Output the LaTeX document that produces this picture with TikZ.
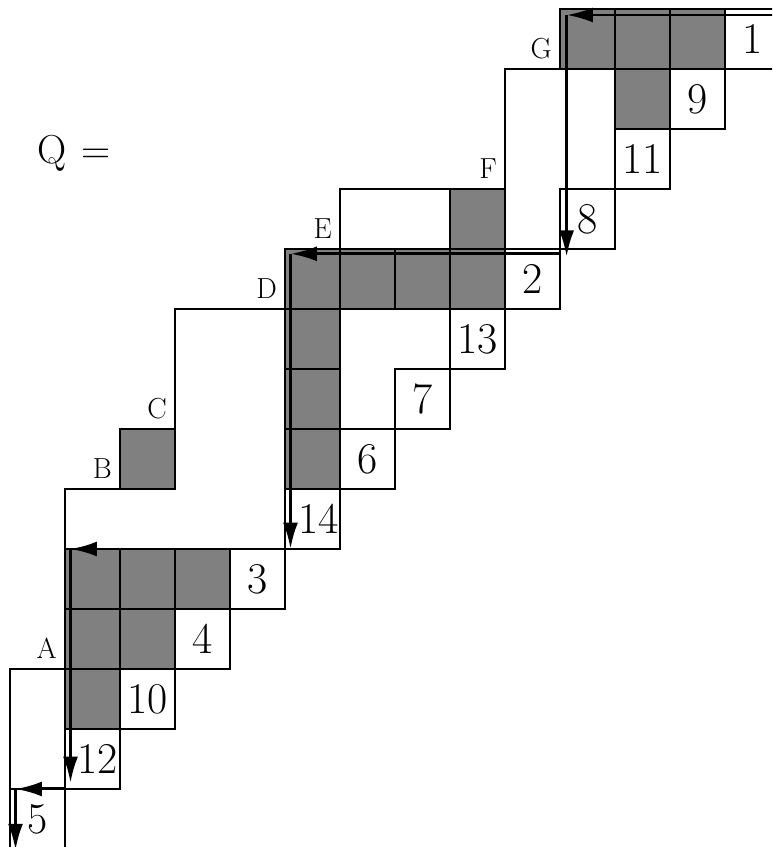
\documentclass[tikz,border=0pt]{standalone}
\usepackage{tikz}
\usetikzlibrary{arrows.meta}

\begin{document}
\begin{tikzpicture}[x=1.1cm, y=-1.2cm,
    cell/.style={draw, line width=0.7pt, minimum width=1.1cm, minimum height=1.2cm, inner sep=0pt, font=\fontsize{25}{30}\selectfont},
    shade/.style={fill=black!50, draw=black, line width=0.7pt},
    rim/.style={line width=0.7pt},
    hook/.style={line width=1.7pt, -{Latex[length=15pt, width=8.5pt]}},
    corner/.style={anchor=south east, inner xsep=4.5pt, inner ysep=5.5pt, font=\fontsize{16.5}{19}\selectfont}]
    \useasboundingbox (-0.182, -0.15) rectangle (13.855, 13.967);
    \clip (-0.182, -0.15) rectangle (13.855, 13.967);

    % 边界
    \draw[rim] (10, 1) -- (9, 1) -- (9, 3) -- (6, 3) -- (6, 4);
    \draw[rim] (5, 5) -- (3, 5) -- (3, 7);
    \draw[rim] (2, 8) -- (1, 8) -- (1, 9);
    \draw[rim] (1, 11) -- (0, 11) -- (0, 13);

    % 灰色格子
    \filldraw[shade] (10, 0) rectangle ++(1, 1) (11, 0) rectangle ++(1, 1) (12, 0) rectangle ++(1, 1) (11, 1) rectangle ++(1, 1);
    \filldraw[shade] (8, 3) rectangle ++(1, 1);
    \filldraw[shade] (5, 4) rectangle ++(1, 1) (6, 4) rectangle ++(1, 1) (7, 4) rectangle ++(1, 1) (8, 4) rectangle ++(1, 1);
    \filldraw[shade] (5, 5) rectangle ++(1, 1) (5, 6) rectangle ++(1, 1) (5, 7) rectangle ++(1, 1);
    \filldraw[shade] (2, 7) rectangle ++(1, 1);
    \filldraw[shade] (1, 9) rectangle ++(1, 1) (2, 9) rectangle ++(1, 1) (3, 9) rectangle ++(1, 1);
    \filldraw[shade] (1, 10) rectangle ++(1, 1) (2, 10) rectangle ++(1, 1) (1, 11) rectangle ++(1, 1);

    % 编号格子
    \node[cell] (n1) at (13.5, 0.5) {1};
    \node[cell] (n9) at (12.5, 1.5) {9};
    \node[cell] (n11) at (11.5, 2.5) {11};
    \node[cell] (n8) at (10.5, 3.5) {8};
    \node[cell] (n2) at (9.5, 4.5) {2};
    \node[cell] (n13) at (8.5, 5.5) {13};
    \node[cell] (n7) at (7.5, 6.5) {7};
    \node[cell] (n6) at (6.5, 7.5) {6};
    \node[cell] (n14) at (5.5, 8.5) {\kern7pt 14};
    \node[cell] (n3) at (4.5, 9.5) {3};
    \node[cell] (n4) at (3.5, 10.5) {4};
    \node[cell] (n10) at (2.5, 11.5) {10};
    \node[cell] (n12) at (1.5, 12.5) {\kern6pt 12};
    \node[cell] (n5) at (0.5, 13.5) {5};

    % 角点
    \node[corner] (G) at (10, 1) {G};
    \node[corner] (F) at (9, 3) {F};
    \node[corner] (E) at (6, 4) {E};
    \node[corner] (D) at (5, 5) {D};
    \node[corner] (C) at (3, 7) {C};
    \node[corner] (B) at (2, 8) {B};
    \node[corner] (A) at (1, 11) {A};

    \node[font=\fontsize{23}{28}\selectfont, anchor=base] (q) at (1.164, 2.567) {Q\kern8pt=};

    % 箭头
    \coordinate (g0) at (14, 0.1);
    \coordinate (g1) at (10.12, 0.1);
    \coordinate (g2) at (10.12, 4.13);
    \coordinate (e0) at (10, 4.08);
    \coordinate (e1) at (5.1, 4.08);
    \coordinate (e2) at (5.1, 9);
    \coordinate (b0) at (5, 9);
    \coordinate (b1) at (1.1, 9);
    \coordinate (b2) at (1.1, 12.9);
    \coordinate (a0) at (1, 13);
    \coordinate (a1) at (0.1, 13);
    \coordinate (a2) at (0.1, 14.02);
    \draw[hook] (g0) -- (g1);
    \draw[hook] (g1) -- (g2);
    \draw[hook] (e0) -- (e1);
    \draw[hook] (e1) -- (e2);
    \draw[hook] (b0) -- (b1);
    \draw[hook] (b1) -- (b2);
    \draw[hook] (a0) -- (a1);
    \draw[hook] (a1) -- (a2);
\end{tikzpicture}
\end{document}
